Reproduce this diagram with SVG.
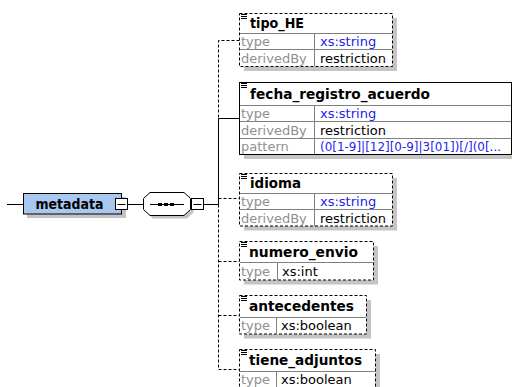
<svg xmlns="http://www.w3.org/2000/svg" width="512" height="387" viewBox="0 0 512 387">
<defs>
<style>
.sh{fill:#c4c4c4}
.box{fill:#fff;stroke:#000;stroke-width:1}
.opt{stroke-dasharray:3,2}
.div{stroke:#808080;stroke-width:1;fill:none}
.name{font-family:"DejaVu Sans",sans-serif;font-weight:bold;font-size:13.5px;fill:#000}
.lbl{font-family:"DejaVu Sans",sans-serif;font-size:13px;fill:#909090}
.val{font-family:"DejaVu Sans",sans-serif;font-size:13px;fill:#000}
.blue{fill:#2323ee}
.con{stroke:#000;stroke-width:1;fill:none}
.dash{stroke-dasharray:3,2}
.ico{stroke:#000;stroke-width:1;fill:none}
</style>
<g id="ico"><path class="ico" d="M241 14.5h6M241 16.5h6M241 18.5h6"/></g>
</defs>

<g id="connectors">
<path class="con" d="M7 204.5H23.5M127.5 204.5H143.5M203.5 204.5H218.5M218.5 118.5V204.5M218.5 118.5H239.5"/>
<path class="con dash" d="M239.5 40.5H218.5V118.5M218.5 204.5V369.5H239.5M218.5 198.5H239.5M218.5 261.5H239.5M218.5 315.5H239.5"/>
</g>

<g id="metadata">
<rect class="sh" x="27" y="197" width="99" height="21"/>
<rect x="23.5" y="193.5" width="98" height="20.5" fill="#a8c8f0" stroke="#000"/>
<text class="name" x="35.5" y="208.5" textLength="68" lengthAdjust="spacingAndGlyphs">metadata</text>
<rect class="box" x="115.5" y="198.5" width="12" height="11"/>
<path class="con" d="M117.5 204.5H125.5"/>
</g>

<g id="sequence">
<polygon class="sh" points="153,195.5 187,195.5 193.5,201.5 193.5,212.5 187,218.5 153,218.5 146.5,212.5 146.5,201.5"/>
<polygon class="box" points="150,192.5 184,192.5 190.5,198.5 190.5,209.5 184,215.5 150,215.5 143.5,209.5 143.5,198.5"/>
<path class="con" d="M150 204.5H184"/>
<rect x="158" y="203" width="4" height="3" fill="#000"/>
<rect x="164" y="203" width="4" height="3" fill="#000"/>
<rect x="170" y="203" width="4" height="3" fill="#000"/>
<rect class="box" x="191.5" y="198.5" width="12" height="11"/>
<path class="con" d="M193.5 204.5H201.5"/>
</g>

<g id="tipo_HE">
<rect class="sh" x="244" y="18" width="153" height="53"/>
<rect class="box opt" x="239.5" y="13.5" width="153" height="53"/>
<path class="div" d="M240 33.5H392M240 49.5H392M314.5 34V66"/>
<use href="#ico"/>
<text class="name" x="250" y="28" textLength="54" lengthAdjust="spacingAndGlyphs">tipo_HE</text>
<text class="lbl" x="241" y="46">type</text>
<text class="val blue" x="320" y="46">xs:string</text>
<text class="lbl" x="241" y="63">derivedBy</text>
<text class="val" x="320" y="63">restriction</text>
</g>

<g id="fecha_registro_acuerdo">
<rect class="sh" x="244" y="87" width="280" height="72"/>
<rect class="box" x="239.5" y="82.5" width="272" height="72"/>
<path class="div" d="M240 105.5H511M240 121.5H511M240 138.5H511M314.5 106V154"/>
<use href="#ico" y="69"/>
<text class="name" x="250" y="99" textLength="180" lengthAdjust="spacingAndGlyphs">fecha_registro_acuerdo</text>
<text class="lbl" x="241" y="118">type</text>
<text class="val blue" x="320" y="118">xs:string</text>
<text class="lbl" x="241" y="135">derivedBy</text>
<text class="val" x="320" y="135">restriction</text>
<text class="lbl" x="241" y="151">pattern</text>
<text class="val blue" x="320" y="150.5" font-size="12" textLength="181" lengthAdjust="spacingAndGlyphs">(0[1-9]|[12][0-9]|3[01])[/](0[...</text>
</g>

<g id="idioma">
<rect class="sh" x="244" y="178" width="153" height="52.5"/>
<rect class="box opt" x="239.5" y="173.5" width="153" height="52.5"/>
<path class="div" d="M240 193.5H392M240 209.5H392M314.5 194V226"/>
<use href="#ico" y="160"/>
<text class="name" x="250" y="188" textLength="51" lengthAdjust="spacingAndGlyphs">idioma</text>
<text class="lbl" x="241" y="206">type</text>
<text class="val blue" x="320" y="206">xs:string</text>
<text class="lbl" x="241" y="223">derivedBy</text>
<text class="val" x="320" y="223">restriction</text>
</g>

<g id="numero_envio">
<rect class="sh" x="244" y="246" width="134" height="38.5"/>
<rect class="box opt" x="239.5" y="241.5" width="134" height="38.5"/>
<path class="div" d="M240 262.5H373M277.5 263V280"/>
<use href="#ico" y="228"/>
<text class="name" x="249" y="256.5" textLength="109" lengthAdjust="spacingAndGlyphs">numero_envio</text>
<text class="lbl" x="241" y="276">type</text>
<text class="val" x="282" y="276">xs:int</text>
</g>

<g id="antecedentes">
<rect class="sh" x="244" y="300" width="127" height="38.5"/>
<rect class="box opt" x="239.5" y="295.5" width="127" height="38.5"/>
<path class="div" d="M240 317.5H366M276.5 318V334"/>
<use href="#ico" y="282"/>
<text class="name" x="249" y="311" textLength="105" lengthAdjust="spacingAndGlyphs">antecedentes</text>
<text class="lbl" x="241" y="330">type</text>
<text class="val" x="281" y="330">xs:boolean</text>
</g>

<g id="tiene_adjuntos">
<rect class="sh" x="244" y="354" width="136" height="40"/>
<rect class="box opt" x="239.5" y="349.5" width="136" height="40"/>
<path class="div" d="M240 371.5H375M276.5 372V390"/>
<use href="#ico" y="336"/>
<text class="name" x="249" y="365" textLength="113" lengthAdjust="spacingAndGlyphs">tiene_adjuntos</text>
<text class="lbl" x="241" y="384">type</text>
<text class="val" x="281" y="384">xs:boolean</text>
</g>
</svg>
